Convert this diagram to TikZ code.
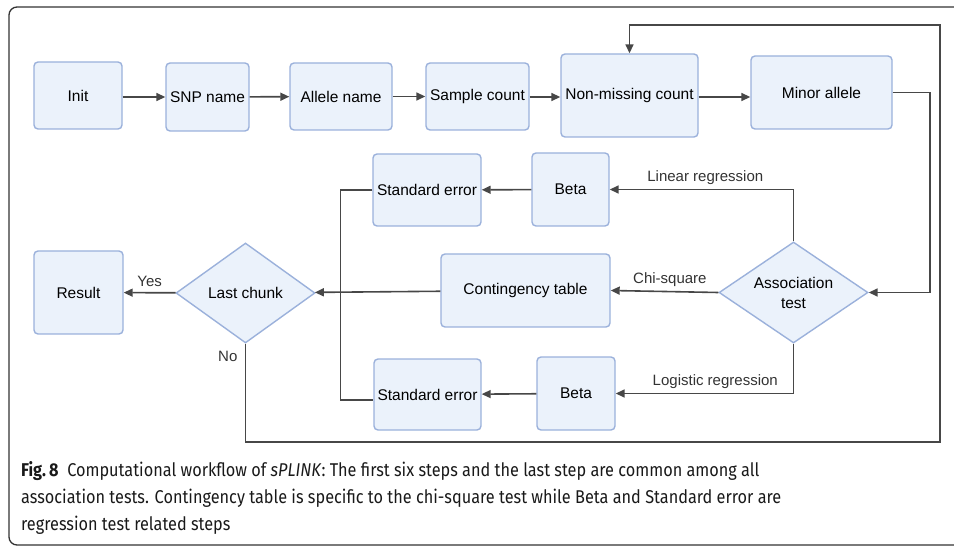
\documentclass[tikz,border=0pt]{standalone}
\usepackage{fontspec}
\setmainfont{Liberation Sans}
\newfontfamily\capfont[FakeStretch=0.88]{Fira Sans}
\usepackage{xcolor}
\usetikzlibrary{arrows.meta,shapes.geometric,positioning,calc}

\definecolor{boxfill}{HTML}{EBF2FB}
\definecolor{boxline}{HTML}{9BB1DB}
\definecolor{wire}{HTML}{474747}

\begin{document}
\begin{tikzpicture}[x=1pt, y=-1pt, font=\fontsize{15.5}{18}\selectfont,
    stepbox/.style={draw=boxline, fill=boxfill, line width=1.4pt, rounded corners=4pt, inner sep=0pt},
    decision/.style={draw=boxline, fill=boxfill, line width=1.4pt, diamond, inner sep=0pt, align=center},
    flow/.style={draw=wire, line width=1.6pt, -{Triangle[length=9pt, width=8pt]}},
    wire/.style={draw=wire, line width=1.6pt},
    lbl/.style={text=black!80, font=\fontsize{15}{18}\selectfont}]
    \useasboundingbox (0,0) rectangle (954,548);
    \clip (0,0) rectangle (954,548);
    % Outer frame
    \draw[black!80, line width=1.3pt, rounded corners=8pt] (9,7) rectangle (990,545);

    % Common steps
    \node[stepbox, minimum width=88pt, minimum height=67pt] (init) at (78,95.5) {Init};
    \node[stepbox, minimum width=83pt, minimum height=68pt] (snp) at (207.5,97) {SNP name};
    \node[stepbox, minimum width=102pt, minimum height=67pt] (allele) at (341,96.5) {Allele name};
    \node[stepbox, minimum width=103pt, minimum height=67pt] (sample) at (477.5,96.5) {Sample count};
    \node[stepbox, minimum width=137pt, minimum height=83pt] (nonmiss) at (629.5,95.5) {Non-missing count};
    \node[stepbox, minimum width=141pt, minimum height=73pt] (minor) at (821.5,92.5) {Minor allele};

    % Test specific steps
    \node[decision, minimum width=149pt, minimum height=101pt] (assoc) at (793.5,292.5) {\makebox[0pt]{Association}\\[2pt]\makebox[0pt]{test}};
    \node[stepbox, minimum width=77pt, minimum height=73pt] (betaTop) at (570.5,189.5) {Beta};
    \node[stepbox, minimum width=108pt, minimum height=72pt] (seTop) at (427,190) {Standard error};
    \node[stepbox, minimum width=169pt, minimum height=73pt] (cont) at (525.5,290.5) {Contingency table};
    \node[stepbox, minimum width=78pt, minimum height=73pt] (betaBot) at (576,393.5) {Beta};
    \node[stepbox, minimum width=107pt, minimum height=71pt] (seBot) at (427.5,394.5) {Standard error};

    % Last step
    \node[decision, minimum width=139pt, minimum height=100pt] (last) at (245.5,293) {\makebox[0pt]{Last chunk}};
    \node[stepbox, minimum width=89pt, minimum height=83pt] (result) at (78.5,292.5) {Result};

    \coordinate (loopBR) at (940,442);
    \coordinate (loopTR) at (940,25);

    % Connect nodes
    \draw[flow] (init.east |- snp) -- (snp);
    \draw[flow] (snp) -- (allele);
    \draw[flow] (allele) -- (sample);
    \draw[flow] (sample.east |- 0,97) -- (nonmiss.west |- 0,97);
    \draw[flow] (nonmiss.east |- 0,97) -- (minor.west |- 0,97);
    \draw[flow] (minor.east) -- ++(37,0) |- (assoc.east);

    \draw[flow] (assoc.north) |- node[lbl, above=1pt, pos=0.74] {Linear regression} (betaTop.east);
    \draw[flow] (assoc.west) -- node[lbl, above=1pt, pos=0.45] {Chi-square} (cont.east);
    \draw[flow] (assoc.south) |- node[lbl, above=1pt, pos=0.72] {Logistic regression} (betaBot.east);

    \draw[flow] (betaTop) -- (seTop);
    \draw[flow] (betaBot) -- (seBot);
    \draw[wire] (seTop.west) -- ++(-32,0) |- ([yshift=-5.5pt]seBot.west);
    \draw[flow] (cont) -- (last);

    \draw[flow] (last) -- node[lbl, above=2pt] {Yes} (result);
    \draw[flow] (last.south) node[lbl, anchor=north east, xshift=-4pt, yshift=-3pt] {No}
        |- (loopBR) -- (loopTR) -| (nonmiss.north);

    % Caption
    \node[anchor=north west, align=left, inner sep=0pt, font=\capfont\fontsize{18.5}{27}\selectfont, text=black!90] (caption) at (21,461)
        {\textbf{Fig.\,8}\ \ Computational workflow of \textit{sPLINK}: The first six steps and the last step are common among all\\
         association tests. Contingency table is specific to the chi-square test while Beta and Standard error are\\
         regression test related steps};
\end{tikzpicture}
\end{document}
